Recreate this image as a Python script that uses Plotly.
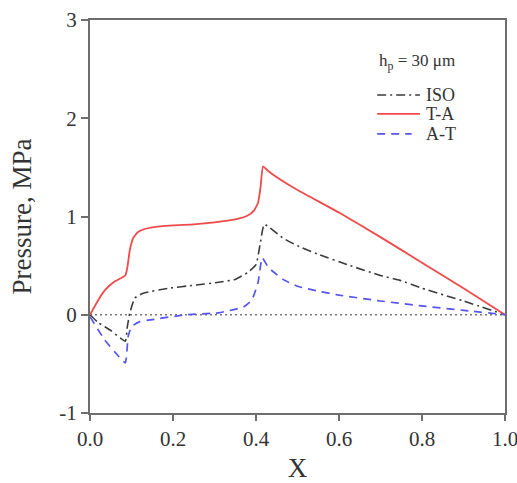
import plotly.graph_objects as go

# ---- data ----
x_ta = [0, 0.02, 0.036, 0.06, 0.085, 0.09, 0.096, 0.104, 0.115, 0.13, 0.15, 0.2, 0.25, 0.3, 0.35,
        0.38, 0.395, 0.405, 0.411, 0.417, 0.43, 0.45, 0.5, 0.6, 0.7, 0.8, 0.9, 1.0]
p_ta = [0, 0.15, 0.25, 0.34, 0.40, 0.48, 0.66, 0.78, 0.84, 0.87, 0.89, 0.91, 0.92, 0.94, 0.97,
        1.01, 1.06, 1.14, 1.30, 1.51, 1.46, 1.40, 1.27, 1.04, 0.79, 0.53, 0.27, 0.0]

x_iso = [0, 0.02, 0.05, 0.085, 0.09, 0.096, 0.108, 0.128, 0.19, 0.25, 0.31, 0.35, 0.38, 0.40,
         0.41, 0.42, 0.465, 0.506, 0.547, 0.627, 0.7, 0.747, 0.8, 0.9, 1.0]
p_iso = [0, -0.08, -0.16, -0.27, -0.12, 0.02, 0.17, 0.22, 0.27, 0.30, 0.33, 0.36, 0.43, 0.51,
         0.72, 0.92, 0.78, 0.69, 0.62, 0.50, 0.40, 0.35, 0.27, 0.14, 0.0]

x_at = [0, 0.036, 0.06, 0.085, 0.092, 0.10, 0.12, 0.15, 0.23, 0.31, 0.37, 0.39, 0.405, 0.415,
        0.43, 0.465, 0.5, 0.55, 0.6, 0.7, 0.8, 0.9, 1.0]
p_at = [-0.02, -0.26, -0.38, -0.49, -0.22, -0.12, -0.07, -0.05, 0.0, 0.02, 0.08, 0.15, 0.33, 0.58,
        0.48, 0.36, 0.29, 0.24, 0.20, 0.14, 0.09, 0.045, 0.0]

x_ticks = [0.0, 0.2, 0.4, 0.6, 0.8, 1.0]
x_ticklabels = ["0.0", "0.2", "0.4", "0.6", "0.8", "1.0"]
y_ticks = [-1, 0, 1, 2, 3]
y_ticklabels = ["-1", "0", "1", "2", "3"]

legend_title = "h<sub>p</sub> = 30 μm"
series_names = ["ISO", "T-A", "A-T"]

FONT = "Liberation Serif"
AXC = "#6e6e6e"
TXT = "#333333"
ISO_STYLE = dict(color="#3a3a3a", width=1.6, dash="9px,4px,2px,4px")
TA_STYLE = dict(color="#ee4a4a", width=1.8)
AT_STYLE = dict(color="#5555ee", width=1.7, dash="8px,6px")

fig = go.Figure()
fig.add_trace(go.Scatter(x=[0, 1], y=[0, 0], mode="lines", showlegend=False,
                         line=dict(color="#777777", width=1.6, dash="2px,3px")))
fig.add_trace(go.Scatter(x=x_iso, y=p_iso, mode="lines", name=series_names[0], showlegend=False,
                         line=dict(**ISO_STYLE, shape="spline", smoothing=0.4)))
fig.add_trace(go.Scatter(x=x_ta, y=p_ta, mode="lines", name=series_names[1], showlegend=False,
                         line=dict(**TA_STYLE, shape="spline", smoothing=0.4)))
fig.add_trace(go.Scatter(x=x_at, y=p_at, mode="lines", name=series_names[2], showlegend=False,
                         line=dict(**AT_STYLE, shape="spline", smoothing=0.4)))

# manual legend (paper coordinates)
leg_x0, leg_x1, leg_tx = 0.692, 0.795, 0.806
leg_ys = [0.809, 0.761, 0.710]
styles = [ISO_STYLE, TA_STYLE, AT_STYLE]
shapes = []
annotations = [dict(x=0.692, y=0.892, xref="paper", yref="paper", xanchor="left", yanchor="middle",
                    text=legend_title, showarrow=False, font=dict(family=FONT, size=17, color=TXT))]
for name, st, yy in zip(series_names, styles, leg_ys):
    shapes.append(dict(type="line", xref="paper", yref="paper", x0=leg_x0, x1=leg_x1 if name != "A-T" else 0.775,
                       y0=yy, y1=yy, line=dict(color=st["color"], width=st["width"], dash=st.get("dash", "solid"))))
    annotations.append(dict(x=leg_tx, y=yy, xref="paper", yref="paper", xanchor="left", yanchor="middle",
                            text=name, showarrow=False, font=dict(family=FONT, size=18, color=TXT)))

fig.update_layout(
    width=517, height=483,
    margin=dict(l=90, r=12, t=20, b=70),
    paper_bgcolor="white", plot_bgcolor="white",
    font=dict(family=FONT, color=TXT),
    showlegend=False,
    shapes=shapes,
    annotations=annotations,
)
fig.update_xaxes(range=[0, 1], tickvals=x_ticks, ticktext=x_ticklabels, automargin=False,
                 ticklabeloverflow="allow",
                 showline=True, linecolor=AXC, linewidth=2, mirror=True,
                 ticks="outside", ticklen=6, tickcolor=AXC, tickwidth=1.5,
                 showgrid=False, zeroline=False,
                 tickfont=dict(family=FONT, size=21, color=TXT),
                 title=dict(text="X", font=dict(family=FONT, size=27, color=TXT), standoff=16))
fig.update_yaxes(range=[-1, 3], tickvals=y_ticks, ticktext=y_ticklabels, automargin=False,
                 showline=True, linecolor=AXC, linewidth=2, mirror=True,
                 ticks="outside", ticklen=7, tickcolor=AXC, tickwidth=1.5,
                 showgrid=False, zeroline=False,
                 tickfont=dict(family=FONT, size=21, color=TXT),
                 title=dict(text="Pressure, MPa", font=dict(family=FONT, size=27, color=TXT), standoff=20))

fig.write_html("out.html")
